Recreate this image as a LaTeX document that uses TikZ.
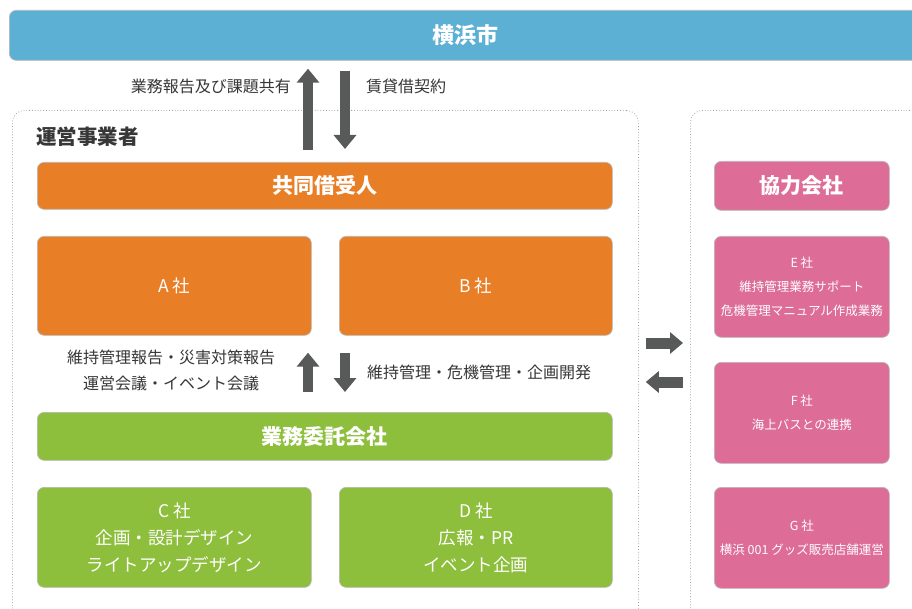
\documentclass[tikz,border=0pt]{standalone}
\usepackage{fontspec}
\setmainfont{Noto Sans CJK JP}
\usetikzlibrary{arrows.meta}
\definecolor{cityblue}{RGB}{92,176,212}
\definecolor{orng}{RGB}{232,126,38}
\definecolor{grn}{RGB}{141,190,60}
\definecolor{pnk}{RGB}{221,108,150}
\definecolor{arrgray}{RGB}{88,90,90}
\definecolor{txtgray}{RGB}{55,55,55}
\tikzset{
  cbox/.style={rounded corners=7pt, draw=black!28, line width=0.7pt, text=white,
    align=center, inner sep=0pt, anchor=north west},
  dotbox/.style={rounded corners=12pt, draw=black!35, dotted, line width=0.8pt,
    inner sep=0pt, anchor=north west},
  bigarrow/.style={draw=arrgray, line width=10pt, line cap=butt,
    -{Triangle[length=14pt,width=22pt]}},
  harrow/.style={draw=arrgray, line width=11pt, line cap=butt,
    -{Triangle[length=13pt,width=21pt]}},
  lbl/.style={text=txtgray, inner sep=0pt, font=\fontsize{16}{26}\selectfont},
  boxtxt/.style={font=\fontsize{17.5}{27}\selectfont},
  smalltxt/.style={font=\fontsize{12.5}{24}\selectfont},
  bartxt/.style={font=\fontsize{21}{24}\selectfont\bfseries},
}
\begin{document}
\begin{tikzpicture}[x=1pt,y=-1pt]
\useasboundingbox (0,0) rectangle (912,609);
\clip (0,0) rectangle (912,609);
\fill[white] (0,0) rectangle (912,609);

% Yokohama city
\node[cbox, fill=cityblue, minimum width=912pt, minimum height=50pt,
  font=\fontsize{22}{24}\selectfont\bfseries] (city) at (9,10) {横浜市};

% dotted group boxes
\node[dotbox, minimum width=626pt, minimum height=540pt] (opbox) at (12,110) {};
\node[dotbox, minimum width=240pt, minimum height=540pt] (coopbox) at (690,110) {};

\node[anchor=west, inner sep=0pt, text=txtgray, font=\fontsize{20.5}{24}\selectfont\bfseries] (optitle) at (36,137) {運営事業者};

% operator side
\node[cbox, fill=orng, minimum width=575pt, minimum height=47pt, bartxt] (kyodo) at (37,162) {共同借受人};
\node[cbox, fill=orng, minimum width=274pt, minimum height=99pt, boxtxt] (A) at (37,236) {A 社};
\node[cbox, fill=orng, minimum width=273pt, minimum height=99pt, boxtxt] (B) at (339,236) {B 社};
\node[cbox, fill=grn, minimum width=575pt, minimum height=48pt, bartxt] (gyomu) at (37,412) {業務委託会社};
\node[cbox, fill=grn, minimum width=274pt, minimum height=100pt, boxtxt] (C) at (37,487) {C 社\\企画・設計デザイン\\ライトアップデザイン};
\node[cbox, fill=grn, minimum width=273pt, minimum height=100pt, boxtxt] (D) at (339,487) {D 社\\広報・PR\\イベント企画};

% cooperating companies
\node[cbox, fill=pnk, minimum width=175pt, minimum height=49pt, bartxt] (kyoryoku) at (714,161) {協力会社};
\node[cbox, fill=pnk, minimum width=175pt, minimum height=101pt, smalltxt] (E) at (714,236) {E 社\\維持管理業務サポート\\危機管理マニュアル作成業務};
\node[cbox, fill=pnk, minimum width=175pt, minimum height=101pt, smalltxt] (F) at (714,362) {F 社\\海上バスとの連携};
\node[cbox, fill=pnk, minimum width=175pt, minimum height=101pt, smalltxt] (G) at (714,487) {G 社\\横浜 001 グッズ販売店舗運営};

% labels
\node[lbl, anchor=east] (l1) at (291,86) {業務報告及び課題共有};
\node[lbl, anchor=west] (l2) at (366,86) {賃貸借契約};
\node[lbl, align=center] (l3) at (171,370) {維持管理報告・災害対策報告\\運営会議・イベント会議};
\node[lbl, anchor=west] (l4) at (367,372) {維持管理・危機管理・企画開発};

% arrow x positions
\coordinate (ux) at (308,0);
\coordinate (dx) at (345,0);
\coordinate (ry) at (0,343);
\coordinate (ly) at (0,382);

% city <-> joint lessee
\draw[bigarrow, shorten <=12pt, shorten >=8pt] (kyodo.north -| ux) -- (city.south -| ux);
\draw[bigarrow, shorten <=10pt, shorten >=13pt] (city.south -| dx) -- (kyodo.north -| dx);

% A/B <-> contractors
\draw[bigarrow, shorten <=20pt, shorten >=17pt] (gyomu.north -| ux) -- (A.south -| ux);
\draw[bigarrow, shorten <=17pt, shorten >=20pt] (A.south -| dx) -- (gyomu.north -| dx);

% operator <-> cooperating
\draw[harrow, shorten <=7pt, shorten >=7pt] (opbox.east |- ry) -- (coopbox.west |- ry);
\draw[harrow, shorten <=7pt, shorten >=7pt] (coopbox.west |- ly) -- (opbox.east |- ly);
\end{tikzpicture}
\end{document}
